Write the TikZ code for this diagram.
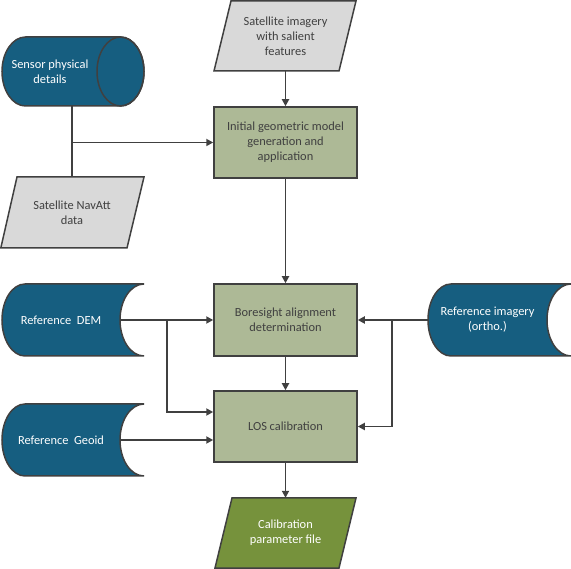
\documentclass[tikz,border=0pt]{standalone}
\usepackage{fontspec}
\setmainfont{Carlito}
\usetikzlibrary{arrows.meta,calc}
\definecolor{dblue}{HTML}{165E80}
\definecolor{lgreen}{HTML}{ADB996}
\definecolor{dgreen}{HTML}{76923C}
\definecolor{lgray}{HTML}{D9D9D9}
\definecolor{edge}{HTML}{404040}
\tikzset{
  shp/.style={draw=edge, line width=1.5pt},
  txt/.style={inner sep=0pt, align=center, font=\fontsize{12.4}{15}\selectfont},
  darktxt/.style={txt, text=edge},
  lighttxt/.style={txt, text=white},
  box/.style={darktxt, shp, fill=lgreen, rectangle},
  arr/.style={draw=edge, line width=1.8pt, -{Triangle[length=7pt,width=7pt]}},
  ln/.style={draw=edge, line width=1.8pt},
}
\begin{document}
\begin{tikzpicture}[x=1pt,y=-1pt]
\useasboundingbox (0,0) rectangle (571,569);
% --- shapes drawn directly ---
% sensor cylinder
\path[shp, fill=dblue] (25.5,37) -- (120.5,37) arc[start angle=-90,end angle=90,x radius=23.5,y radius=34.5]
  -- (25.5,106) arc[start angle=90,end angle=270,x radius=23.5,y radius=34.5] -- cycle;
\draw[shp] (120.5,71.5) ellipse[x radius=23.5,y radius=34.5];
% satellite imagery parallelogram
\path[shp, fill=lgray] (231,1) -- (356,1) -- (339,71) -- (214,71) -- cycle;
% NavAtt parallelogram
\path[shp, fill=lgray] (17,177) -- (144,177) -- (127,248) -- (0.8,248) -- cycle;
% calibration parallelogram
\path[shp, fill=dgreen] (232,498) -- (356,498) -- (339,568) -- (215,568) -- cycle;
% stored data: DEM
\path[shp, fill=dblue] (25,284) arc[start angle=-90,end angle=-270,x radius=23,y radius=36]
  -- (144,356) arc[start angle=90,end angle=270,x radius=24,y radius=36] -- cycle;
% stored data: Geoid
\path[shp, fill=dblue] (25,404) arc[start angle=-90,end angle=-270,x radius=23,y radius=36]
  -- (144,476) arc[start angle=90,end angle=270,x radius=24,y radius=36] -- cycle;
% stored data: reference imagery
\path[shp, fill=dblue] (451,284) arc[start angle=-90,end angle=-270,x radius=23,y radius=36]
  -- (571,356) arc[start angle=90,end angle=270,x radius=24,y radius=36] -- cycle;

% --- nodes ---
\node[lighttxt, minimum width=95, minimum height=69] (sensor) at (50,71.5) {Sensor physical\\details};
\node[darktxt, minimum width=142, minimum height=70] (satimg) at (285.5,36) {Satellite imagery\\with salient\\features};
\node[darktxt, minimum width=127, minimum height=71] (navatt) at (72,212.5) {Satellite NavAtt\\data};
\node[box, minimum width=143, minimum height=71] (init) at (285.5,142.5) {Initial geometric model\\generation and\\application};
\node[box, minimum width=143, minimum height=72] (bore) at (285.5,320) {Boresight alignment\\determination};
\node[box, minimum width=143, minimum height=71] (los) at (285.5,426.5) {LOS calibration};
\node[lighttxt, minimum width=124, minimum height=70] (calib) at (285.5,533) {Calibration\\parameter file};
\node[lighttxt, minimum width=118, minimum height=72] (dem) at (61,320) {Reference~~DEM};
\node[lighttxt, minimum width=118, minimum height=72] (geoid) at (61,440) {Reference~~Geoid};
\node[lighttxt, minimum width=119, minimum height=72] (refimg) at (487.5,320) {Reference imagery\\(ortho.)};

% --- connectors ---
\draw[arr] (satimg.south) -- (init.north);
\draw[ln] (navatt.north |- sensor.south) -- (navatt.north);
\draw[arr] (navatt.north |- init.west) -- (init.west);
\draw[arr] (init.south) -- (bore.north);
\draw[arr] (bore.south) -- (los.north);
\draw[arr] (los.south) -- (calib.north);
\draw[arr] (dem.east) -- (bore.west);
\coordinate (jl) at ($(dem.east)+(47,0)$);
\draw[arr] (jl) |- ([yshift=14.5pt]los.west);
\draw[arr] (geoid.east) -- (geoid.east -| los.west);
\draw[arr] (refimg.west) -- (bore.east);
\coordinate (jr) at ($(refimg.west)+(-36,0)$);
\draw[arr] (jr) |- (los.east);
\end{tikzpicture}
\end{document}
